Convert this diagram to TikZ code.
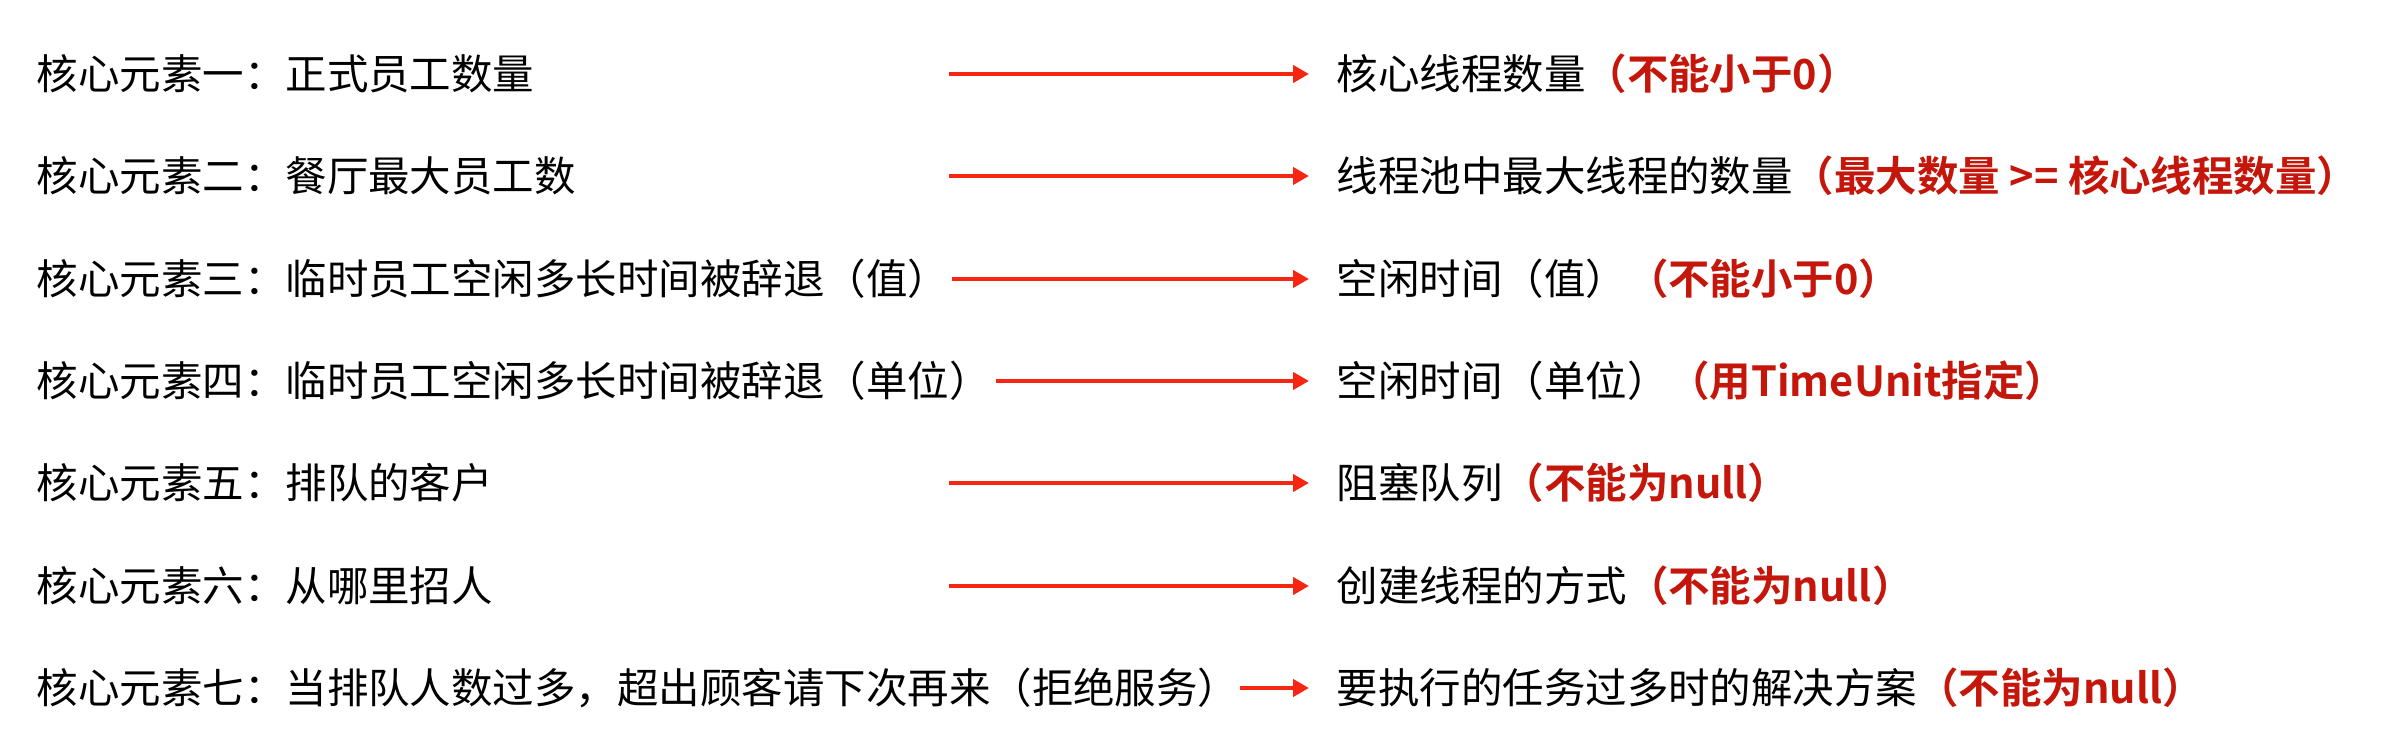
\documentclass[tikz,border=0pt]{standalone}
\usepackage{fontspec}
\setmainfont{Noto Sans CJK SC}[BoldFont={Noto Sans CJK SC Bold}]
\usepackage{xcolor}
\usepackage{tikz}
\usetikzlibrary{arrows.meta,positioning}
\definecolor{arrowred}{RGB}{246,38,18}
\definecolor{warnred}{RGB}{196,22,10}
\newcommand{\warn}[1]{\textcolor{warnred}{\bfseries #1}}
\tikzset{
  elem/.style={anchor=west,inner sep=0pt,font=\fontsize{11.8pt}{14pt}\selectfont},
  flow/.style={arrowred,line width=1.15pt,-{Triangle[length=0.16cm,width=0.17cm]},shorten >=0.27cm}
}

\begin{document}
\begin{tikzpicture}
\useasboundingbox (0,0) rectangle (23.81,-7.37);

\coordinate (k1) at (0.36,-0.74);
\coordinate (k2) at (0.36,-1.76);
\coordinate (k3) at (0.36,-2.79);
\coordinate (k4) at (0.36,-3.81);
\coordinate (k5) at (0.36,-4.83);
\coordinate (k6) at (0.36,-5.86);
\coordinate (k7) at (0.36,-6.88);

\node (l1) at (k1)[elem]{核心元素一：正式员工数量};
\node (l2) at (k2)[elem]{核心元素二：餐厅最大员工数};
\node (l3) at (k3)[elem]{核心元素三：临时员工空闲多长时间被辞退（值）};
\node (l4) at (k4)[elem]{核心元素四：临时员工空闲多长时间被辞退（单位）};
\node (l5) at (k5)[elem]{核心元素五：排队的客户};
\node (l6) at (k6)[elem]{核心元素六：从哪里招人};
\node (l7) at (k7)[elem]{核心元素七：当排队人数过多，超出顾客请下次再来（拒绝服务）};

\node (r1) at ([xshift=13cm]k1)[elem]{核心线程数量\warn{（不能小于0）}};
\node (r2) at ([xshift=13cm]k2)[elem]{线程池中最大线程的数量\warn{（最大数量 >= 核心线程数量）}};
\node (r3) at ([xshift=13cm]k3)[elem]{空闲时间（值）\warn{（不能小于0）}};
\node (r4) at ([xshift=13cm]k4)[elem]{空闲时间（单位）\warn{（用TimeUnit指定）}};
\node (r5) at ([xshift=13cm]k5)[elem]{阻塞队列\warn{（不能为null）}};
\node (r6) at ([xshift=13cm]k6)[elem]{创建线程的方式\warn{（不能为null）}};
\node (r7) at ([xshift=13cm]k7)[elem]{要执行的任务过多时的解决方案\warn{（不能为null）}};

\coordinate (s1) at ([xshift=9.13cm]k1);
\coordinate (s2) at ([xshift=9.13cm]k2);
\coordinate (s3) at ([xshift=9.16cm]k3);
\coordinate (s5) at ([xshift=9.13cm]k5);
\coordinate (s6) at ([xshift=9.13cm]k6);

\draw[flow] (s1) -- (r1.west);
\draw[flow] (s2) -- (r2.west);
\draw[flow] (s3) -- (r3.west);
\draw[flow,shorten <=0.05cm] (l4.east) -- (r4.west);
\draw[flow] (s5) -- (r5.west);
\draw[flow] (s6) -- (r6.west);
\draw[flow] (l7.east) -- (r7.west);
\end{tikzpicture}
\end{document}
